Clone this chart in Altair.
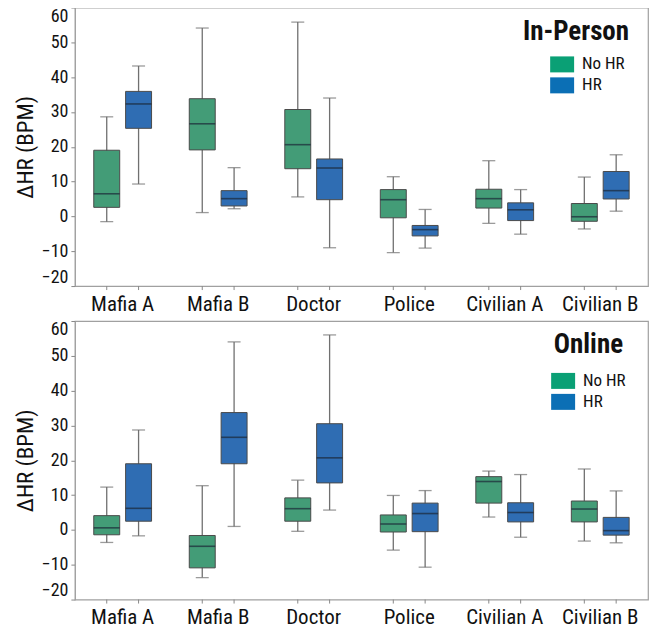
import altair as alt
import pandas as pd

categories = ["Mafia A", "Mafia B", "Doctor", "Police", "Civilian A", "Civilian B"]
groups = ["No HR", "HR"]
panels = ["In-Person", "Online"]

# In-Person panel: whisker low, Q1, median, Q3, whisker high
ip_nohr_lo = [-1.5, 1.1, 5.6, -10.4, -2.0, -3.6]
ip_nohr_q1 = [2.6, 19.1, 13.7, -0.4, 2.4, -1.4]
ip_nohr_med = [6.5, 26.6, 20.6, 4.8, 5.1, -0.1]
ip_nohr_q3 = [19.0, 33.8, 30.7, 7.7, 7.8, 3.7]
ip_nohr_hi = [28.6, 54.1, 55.8, 11.4, 16.0, 11.3]
ip_hr_lo = [9.3, 2.2, -9.0, -9.1, -5.1, 1.5]
ip_hr_q1 = [25.3, 3.0, 4.8, -5.6, -1.2, 5.0]
ip_hr_med = [32.3, 5.1, 13.9, -3.8, 1.9, 7.4]
ip_hr_q3 = [35.9, 7.4, 16.5, -2.6, 3.9, 12.9]
ip_hr_hi = [43.2, 14.0, 34.0, 2.0, 7.7, 17.7]

# Online panel
on_nohr_lo = [-3.6, -13.7, -0.4, -5.8, 3.7, -3.2]
on_nohr_q1 = [-1.4, -10.9, 2.5, -0.6, 7.7, 2.3]
on_nohr_med = [0.6, -4.7, 6.1, 1.7, 13.9, 6.0]
on_nohr_q3 = [4.1, -1.6, 9.2, 4.3, 15.3, 8.3]
on_nohr_hi = [12.3, 12.7, 14.3, 9.9, 16.9, 17.5]
on_hr_lo = [-1.7, 1.0, 5.7, -10.7, -2.1, -3.7]
on_hr_q1 = [2.5, 19.0, 13.5, -0.5, 2.3, -1.5]
on_hr_med = [6.2, 26.6, 20.7, 4.7, 5.0, -0.2]
on_hr_q3 = [19.0, 33.7, 30.5, 7.7, 7.8, 3.6]
on_hr_hi = [28.7, 54.0, 56.0, 11.3, 15.9, 11.2]

y_ticks = [-20, -10, 0, 10, 20, 30, 40, 50, 60]

box_colors = ["#439c77", "#2f6db3"]
legend_colors = ["#0aa075", "#0b6fb5"]

FONT = "Roboto Condensed, Roboto, sans-serif"
W, H = 574, 279


def rows(panel, stats_nohr, stats_hr):
    out = []
    for g, stats in zip(groups, [stats_nohr, stats_hr]):
        lo, q1, med, q3, hi = stats
        for i, c in enumerate(categories):
            out.append(dict(panel=panel, category=c, group=g,
                            lo=lo[i], q1=q1[i], med=med[i], q3=q3[i], hi=hi[i]))
    return out


df = pd.DataFrame(
    rows("In-Person",
         (ip_nohr_lo, ip_nohr_q1, ip_nohr_med, ip_nohr_q3, ip_nohr_hi),
         (ip_hr_lo, ip_hr_q1, ip_hr_med, ip_hr_q3, ip_hr_hi))
    + rows("Online",
           (on_nohr_lo, on_nohr_q1, on_nohr_med, on_nohr_q3, on_nohr_hi),
           (on_hr_lo, on_hr_q1, on_hr_med, on_hr_q3, on_hr_hi))
)

yscale = alt.Scale(domain=[-20, 60], nice=False, zero=False)
yaxis = alt.Axis(values=y_ticks, title="ΔHR (BPM)", grid=False, tickSize=4,
                 labelFontSize=18, labelFont=FONT, labelColor="#111",
                 titleFontSize=23, titleFont=FONT, titleFontWeight="normal",
                 titleColor="#111", labelFlush=True,
                 labelOverlap=False, labelPadding=3, titlePadding=4,
                 domainColor="#a0a0a0", tickColor="#888")


def Y(field):
    return alt.Y(field, scale=yscale, axis=yaxis)


def panel(name, title_x, title_y, leg_x, leg_y):
    data = df[df.panel == name]
    base = alt.Chart(data).encode(
        x=alt.X("category:N", sort=categories, title=None,
                scale=alt.Scale(paddingInner=0, paddingOuter=0),
                axis=alt.Axis(labelAngle=0, ticks=False, domain=False,
                              labelFontSize=21, labelFont=FONT,
                              labelColor="#111", labelPadding=7)),
        xOffset=alt.XOffset("group:N", sort=groups,
                            scale=alt.Scale(paddingInner=0, paddingOuter=0.5)),
    )
    whisk = base.mark_rule(color="#707070", strokeWidth=1.3).encode(
        y=Y("lo:Q"), y2="hi:Q")
    cap_lo = base.mark_tick(color="#707070", size=13, thickness=1.3).encode(y=Y("lo:Q"))
    cap_hi = base.mark_tick(color="#707070", size=13, thickness=1.3).encode(y=Y("hi:Q"))
    box = base.mark_bar(size=26, stroke="#4a4a4a", strokeWidth=1).encode(
        y=Y("q1:Q"), y2="q3:Q",
        fill=alt.Fill("group:N", sort=groups, scale=alt.Scale(range=box_colors),
                      legend=None))
    med = base.mark_tick(size=26, thickness=1.6, color="#1b2838").encode(y=Y("med:Q"))
    xt = base.mark_rule(color="#888", strokeWidth=1).encode(
        y=alt.value(H), y2=alt.value(H + 4))
    leg = base.transform_calculate(grp="datum.group").mark_square(
        opacity=0, size=1).encode(
        y=Y("med:Q"),
        color=alt.Color("grp:N", scale=alt.Scale(domain=groups, range=legend_colors),
                        legend=alt.Legend(orient="none", legendX=leg_x, legendY=leg_y,
                                          title=None, symbolType="M-1,-0.667H1V0.667H-1Z",
                                          symbolSize=576, symbolStrokeWidth=0,
                                          symbolOpacity=1,
                                          labelFontSize=17, labelFont=FONT,
                                          labelColor="#111", labelOffset=8,
                                          rowPadding=0, padding=0)))
    ttl = alt.Chart(pd.DataFrame({"panel": [name]})).mark_text(
        align="right", baseline="alphabetic", fontSize=27, fontWeight="bold",
        font=FONT, color="#111").encode(
        x=alt.value(title_x), y=alt.value(title_y), text="panel:N")
    return alt.layer(whisk, cap_lo, cap_hi, box, med, xt, leg, ttl).properties(
        width=W, height=H)


top = panel("In-Person", 555, 33, 476, 45)
bottom = panel("Online", 549, 32, 477, 48)

chart = alt.vconcat(top, bottom, spacing=4).resolve_scale(
    color="independent", fill="independent", x="independent"
).resolve_legend(color="independent").configure_view(
    stroke="#a0a0a0", strokeWidth=1.2
).properties(padding={"left": 5, "top": -3, "right": 0, "bottom": 0},
             background="white")

chart.save("out.html", embed_options={"renderer": "svg", "actions": False})
